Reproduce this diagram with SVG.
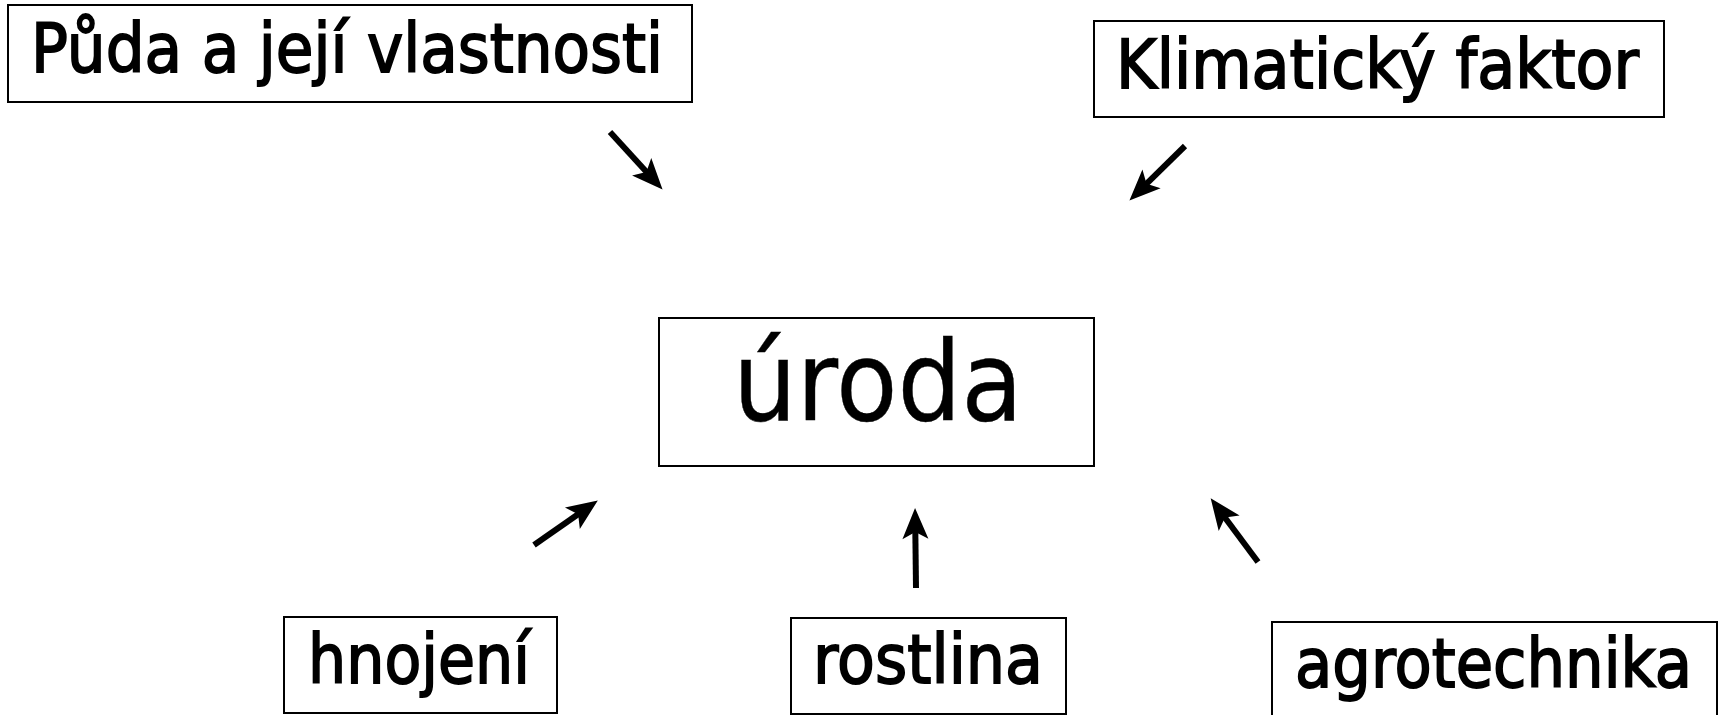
<svg xmlns="http://www.w3.org/2000/svg" width="1723" height="715" viewBox="0 0 1723 715">
<style>
.box{fill:#fff;stroke:#000;stroke-width:2}
.t{font-family:"DejaVu Sans","Liberation Sans",sans-serif;font-size:68px;fill:#000;stroke:#000;stroke-width:1.8}
.big{font-size:110px;stroke-width:0.4}
.arr{stroke:#000;stroke-width:6;fill:none;marker-end:url(#ah)}
</style>
<defs>
<marker id="ah" markerUnits="userSpaceOnUse" markerWidth="36" markerHeight="32" viewBox="0 -16 32 32" refX="10" refY="0" orient="auto">
<path d="M31,0 L0,-13 L7,0 L0,13 Z" fill="#000"/>
</marker>
</defs>
<rect width="1723" height="715" fill="#fff"/>
<g id="puda">
<rect class="box" x="8" y="5" width="684" height="97"/>
<text class="t" x="31" y="72" textLength="632" lengthAdjust="spacingAndGlyphs">Půda a její vlastnosti</text>
</g>
<g id="klima">
<rect class="box" x="1094" y="21" width="570" height="96"/>
<text class="t" x="1116" y="88" textLength="523" lengthAdjust="spacingAndGlyphs">Klimatický faktor</text>
</g>
<g id="uroda">
<rect class="box" x="659" y="318" width="435" height="148"/>
<text class="t big" x="733" y="420" textLength="290" lengthAdjust="spacingAndGlyphs">úroda</text>
</g>
<g id="hnojeni">
<rect class="box" x="284" y="617" width="273" height="96"/>
<text class="t" x="308" y="683" textLength="222" lengthAdjust="spacingAndGlyphs">hnojení</text>
</g>
<g id="rostlina">
<rect class="box" x="791" y="618" width="275" height="96"/>
<text class="t" x="813" y="683" textLength="230" lengthAdjust="spacingAndGlyphs">rostlina</text>
</g>
<g id="agrotechnika">
<rect class="box" x="1272" y="622" width="445" height="100"/>
<text class="t" x="1295" y="687" textLength="397" lengthAdjust="spacingAndGlyphs">agrotechnika</text>
</g>
<g id="connectors">
<line class="arr" x1="610" y1="132" x2="648.4" y2="174.1"/>
<line class="arr" x1="1185" y1="146" x2="1144.4" y2="185.9"/>
<line class="arr" x1="534" y1="545" x2="580.6" y2="512.5"/>
<line class="arr" x1="916" y1="588" x2="915.3" y2="529"/>
<line class="arr" x1="1258" y1="562" x2="1223.2" y2="515.2"/>
</g>
</svg>
